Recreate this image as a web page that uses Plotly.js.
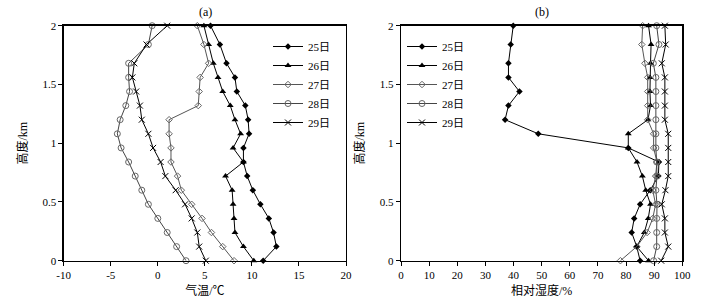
<!DOCTYPE html>
<html>
<head>
<meta charset="utf-8">
<script src="https://cdn.plot.ly/plotly-3.0.1.min.js"></script>
<style>html,body{margin:0;padding:0;background:#fff;}#chart{width:717px;height:303px;}</style>
</head>
<body>
<div id="chart"></div>
<script>
// heights (km), bottom to top
const heights = [0, 0.12, 0.24, 0.36, 0.48, 0.6, 0.72, 0.84, 0.96, 1.08, 1.2, 1.32, 1.44, 1.56, 1.68, 1.84, 2.0];
const days = ["25日", "26日", "27日", "28日", "29日"];
// (a) temperature, °C
const temp25 = [11.2, 12.6, 12.3, 11.8, 10.9, 10.1, 9.5, 9.1, 9.1, 9.7, 9.6, 9.3, 8.4, 8.2, 7.3, 6.6, 5.6];
const temp26 = [10.2, 9.1, 8.2, 8.1, 8.0, 7.9, 7.2, 9.1, 8.0, 8.8, 8.2, 7.7, 6.9, 6.4, 5.9, 5.4, 4.9];
const temp27 = [8.1, 6.9, 5.7, 4.7, 3.6, 2.5, 2.1, 1.4, 1.4, 1.2, 1.2, 4.3, 4.4, 4.5, 5.4, 4.9, 4.2];
const temp28 = [3.0, 2.0, 1.0, 0.0, -1.0, -1.7, -2.4, -3.1, -3.9, -4.3, -4.0, -3.4, -3.0, -3.1, -3.1, -1.0, -0.6];
const temp29 = [5.1, 4.4, 4.2, 3.6, 2.9, 1.9, 0.8, 0.3, -0.5, -1.0, -1.7, -1.9, -2.3, -2.7, -2.5, -1.2, 1.0];
// (b) relative humidity, %
const rh25 = [85, 83.8, 82, 82.9, 85, 88.6, 91.5, 91.7, 80.8, 48.8, 37, 38.2, 42.1, 38.2, 38.2, 39, 39.9];
const rh26 = [88, 83.8, 86.5, 87.9, 88.7, 87, 85.8, 83.9, 80.8, 80.8, 87.8, 88.7, 88.5, 88.5, 88.7, 88.9, 88.0];
const rh27 = [78, 83.8, 87.5, 89.5, 90.5, 89.5, 90.5, 91, 89.8, 89.8, 87.7, 87.7, 87.7, 87.7, 86.7, 85.6, 85.9];
const rh28 = [89.8, 90.9, 90.9, 90.9, 91, 90.6, 91, 90.9, 90.6, 90.6, 90.6, 90.6, 90.6, 90.6, 89.7, 91.7, 90.9];
const rh29 = [92.5, 95, 93.8, 93.8, 92.7, 94, 95, 95, 95, 95, 93.8, 93.8, 93.8, 93.8, 92.7, 94.1, 93.8];
// tick labels
const tempTickVals = [-10, -5, 0, 5, 10, 15, 20];
const tempTickText = ["-10", "-5", "0", "5", "10", "15", "20"];
const rhTickVals = [0, 10, 20, 30, 40, 50, 60, 70, 80, 90, 100];
const hTickVals = [0, 0.5, 1, 1.5, 2];
const hTickText = ["0", "0.5", "1", "1.5", "2"];

const styles = [
  {line: "#000", mk: {symbol: "diamond", size: 5, color: "#000"}},
  {line: "#000", mk: {symbol: "triangle-up", size: 6, color: "#000"}},
  {line: "#555", mk: {symbol: "diamond-open", size: 5, color: "#666", line: {width: 1}}},
  {line: "#444", mk: {symbol: "circle-open", size: 6, color: "#666", line: {width: 1}}},
  {line: "#000", mk: {symbol: "x-thin-open", size: 6, color: "#000", line: {width: 1}}}
];
const tempSeries = [temp25, temp26, temp27, temp28, temp29];
const rhSeries = [rh25, rh26, rh27, rh28, rh29];

const traces = [];
tempSeries.forEach((s, i) => traces.push({
  type: "scatter", mode: "lines+markers", x: s, y: heights, name: days[i],
  xaxis: "x", yaxis: "y", legend: "legend", cliponaxis: false,
  line: {color: styles[i].line, width: 1}, marker: styles[i].mk
}));
rhSeries.forEach((s, i) => traces.push({
  type: "scatter", mode: "lines+markers", x: s, y: heights, name: days[i],
  xaxis: "x2", yaxis: "y2", legend: "legend2", cliponaxis: false,
  line: {color: styles[i].line, width: 1}, marker: styles[i].mk
}));

const FONT = "Liberation Serif, Times New Roman, Noto Sans CJK SC, serif";
const yDom = [1 - 260.7 / 303, 1 - 25.7 / 303];
const axisCommon = {
  showgrid: false, zeroline: false, showline: true, linecolor: "#000", linewidth: 1.3,
  mirror: true, ticks: "outside", ticklen: 4, tickwidth: 1, tickcolor: "#000",
  tickfont: {family: FONT, size: 11, color: "#000"}, fixedrange: true
};
const layout = {
  width: 717, height: 303,
  margin: {l: 0, r: 0, t: 0, b: 0},
  paper_bgcolor: "#fff", plot_bgcolor: "#fff",
  font: {family: FONT, size: 11, color: "#000"},
  xaxis: Object.assign({}, axisCommon, {
    domain: [63.7 / 717, 346 / 717], range: [-10, 20], anchor: "y",
    tickvals: tempTickVals, ticktext: tempTickText,
    title: {text: "气温/℃", font: {family: FONT, size: 12}, standoff: 6}
  }),
  yaxis: Object.assign({}, axisCommon, {
    domain: yDom, range: [0, 2], anchor: "x",
    tickvals: hTickVals, ticktext: hTickText,
    title: {text: "高度/km", font: {family: FONT, size: 12}, standoff: 12}
  }),
  xaxis2: Object.assign({}, axisCommon, {
    domain: [401 / 717, 682.3 / 717], range: [0, 100], anchor: "y2",
    tickvals: rhTickVals,
    title: {text: "相对湿度/%", font: {family: FONT, size: 12}, standoff: 6}
  }),
  yaxis2: Object.assign({}, axisCommon, {
    domain: yDom, range: [0, 2], anchor: "x2",
    tickvals: hTickVals, ticktext: hTickText,
    title: {text: "高度/km", font: {family: FONT, size: 12}, standoff: 12}
  }),
  showlegend: true,
  legend: {x: 268 / 717, y: 1 - 32 / 303, xanchor: "left", yanchor: "top",
    bgcolor: "rgba(0,0,0,0)", font: {family: FONT, size: 11}},
  legend2: {x: 402 / 717, y: 1 - 32 / 303, xanchor: "left", yanchor: "top",
    bgcolor: "rgba(0,0,0,0)", font: {family: FONT, size: 11}},
  annotations: [
    {text: "(a)", xref: "paper", yref: "paper", x: 205 / 717, y: 1 - 12 / 303,
      xanchor: "center", yanchor: "middle", showarrow: false,
      font: {family: FONT, size: 12, color: "#000"}},
    {text: "(b)", xref: "paper", yref: "paper", x: 542 / 717, y: 1 - 12 / 303,
      xanchor: "center", yanchor: "middle", showarrow: false,
      font: {family: FONT, size: 12, color: "#000"}}
  ]
};
Plotly.newPlot("chart", traces, layout, {displayModeBar: false, staticPlot: true});
</script>
</body>
</html>
